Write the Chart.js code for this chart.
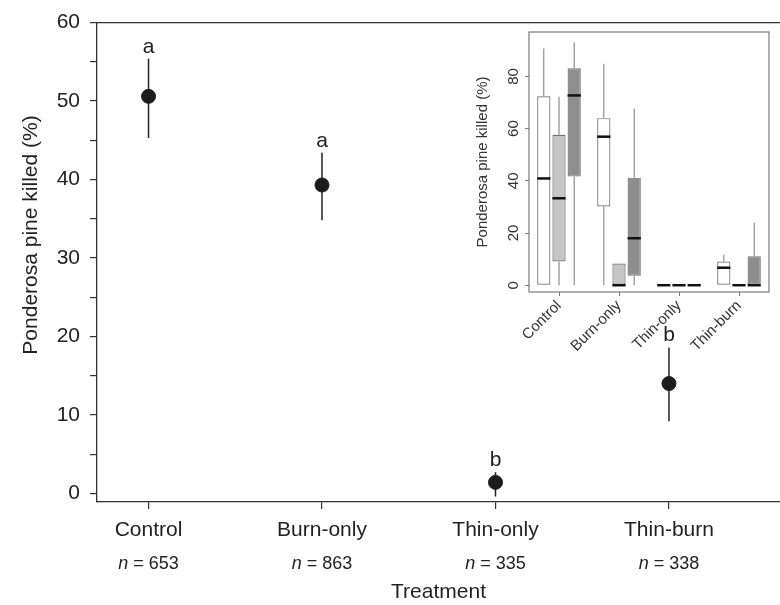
<!DOCTYPE html>
<html>
<head>
<meta charset="utf-8">
<script src="https://cdn.jsdelivr.net/npm/chart.js@4.4.1/dist/chart.umd.min.js"></script>
<style>
  body { margin: 0; background: #fff; }
  #wrap { position: relative; width: 780px; height: 605px; }
  #main { position: absolute; left: 0; top: 0; }
  #inset { position: absolute; left: 440px; top: 20px; }
</style>
</head>
<body>
<div id="wrap">
  <canvas id="main" width="780" height="605"></canvas>
  <canvas id="inset" width="340" height="380"></canvas>
</div>
<script>
const treatments = ['Control', 'Burn-only', 'Thin-only', 'Thin-burn'];
const sampleSizes = [653, 863, 335, 338];
const meanKilled = [50.6, 39.3, 1.4, 14.0];
const upperCI = [55.4, 43.4, 2.7, 18.6];
const lowerCI = [45.3, 34.8, -0.4, 9.2];
const groupLetters = ['a', 'a', 'b', 'b'];
const yTicks = [0, 5, 10, 15, 20, 25, 30, 35, 40, 45, 50, 55, 60];

// inset: three box plots per treatment (white, light grey, dark grey)
const boxLow  = [[0, 0, 0, 0], [0, 0, 0, 0], [0, 0, 0, 0]];
const boxQ1   = [[0, 30.2, 0, 0], [9.1, 0, 0, 0], [41.6, 3.6, 0, 0]];
const boxMed  = [[40.9, 56.9, 0, 6.7], [33.3, 0, 0, 0], [72.7, 18, 0, 0]];
const boxQ3   = [[72.4, 64, 0, 9.1], [57.6, 8.3, 0, 0], [83.1, 41.2, 0, 11.1]];
const boxHigh = [[90.7, 84.8, 0, 11.6], [72.2, 8.3, 0, 0], [93, 67.6, 0, 23.9]];
const insetTicks = [0, 20, 40, 60, 80];

const FONT = "'Liberation Sans', Arial, sans-serif";
const boxFills = ['#ffffff', '#c6c6c6', '#8e8e8e'];

// letters, n labels and the y title of the main panel
const mainLabels = {
    id: 'mainLabels',
    afterDraw(chart) {
        const ctx = chart.ctx;
        const xs = chart.scales.x;
        const ys = chart.scales.y;
        ctx.save();
        ctx.fillStyle = '#222';
        ctx.textAlign = 'center';
        ctx.textBaseline = 'alphabetic';
        ctx.font = `21px ${FONT}`;
        groupLetters.forEach((l, i) => {
            ctx.fillText(l, xs.getPixelForValue(i), ys.getPixelForValue(upperCI[i]) - 6);
        });

        // n = ...
        const ny = xs.top + 62;
        sampleSizes.forEach((n, i) => {
            const cx = xs.getPixelForValue(i);
            ctx.font = `italic 18px ${FONT}`;
            const w1 = ctx.measureText('n').width;
            ctx.font = `18px ${FONT}`;
            const rest = ' = ' + n;
            const w2 = ctx.measureText(rest).width;
            let x0 = cx - (w1 + w2) / 2;
            ctx.textAlign = 'left';
            ctx.textBaseline = 'middle';
            ctx.font = `italic 18px ${FONT}`;
            ctx.fillText('n', x0, ny);
            ctx.font = `18px ${FONT}`;
            ctx.fillText(rest, x0 + w1, ny);
        });

        ctx.translate(31, 235);
        ctx.rotate(-Math.PI / 2);
        ctx.textAlign = 'center';
        ctx.textBaseline = 'middle';
        ctx.font = `21px ${FONT}`;
        ctx.fillText('Ponderosa pine killed (%)', 0, 0);
        ctx.restore();
    }
};

const errorBars = treatments.map((t, i) => ({
    type: 'line',
    label: t + ' CI',
    data: [{ x: i, y: lowerCI[i] }, { x: i, y: upperCI[i] }],
    borderColor: '#222',
    borderWidth: 1.5,
    pointRadius: 0,
    order: 2
}));

new Chart(document.getElementById('main'), {
    type: 'scatter',
    data: {
        datasets: [{
            label: 'Ponderosa pine killed',
            data: meanKilled.map((v, i) => ({ x: i, y: v })),
            backgroundColor: '#1c1c1c',
            borderColor: '#1c1c1c',
            pointRadius: 7,
            pointHoverRadius: 7,
            order: 0
        }, ...errorBars]
    },
    options: {
        responsive: false,
        animation: false,
        layout: { autoPadding: false, padding: { top: 15, right: 0, left: 0, bottom: 0 } },
        plugins: { legend: { display: false }, tooltip: { enabled: false } },
        scales: {
            x: {
                type: 'linear',
                min: -0.297,
                max: 3.64,
                afterBuildTicks: s => { s.ticks = treatments.map((_, i) => ({ value: i })); },
                afterFit: s => { s.height = 103; },
                grid: { drawOnChartArea: false, tickLength: 7, color: '#333', lineWidth: 1.2 },
                border: { color: '#333', width: 1.3 },
                ticks: {
                    callback: v => treatments[v],
                    font: { size: 21, family: FONT },
                    color: '#222',
                    padding: 9,
                    maxRotation: 0,
                    autoSkip: false
                },
                title: {
                    display: true,
                    text: 'Treatment',
                    font: { size: 21, family: FONT },
                    color: '#222',
                    padding: { top: 0, bottom: 0 }
                }
            },
            xTop: {
                type: 'linear',
                position: 'top',
                min: -0.297,
                max: 3.64,
                ticks: { display: false },
                grid: { display: false },
                border: { color: '#333', width: 1.3 },
                afterFit: s => { s.height = 0; }
            },
            y: {
                min: -1.1,
                max: 60,
                afterBuildTicks: s => { s.ticks = yTicks.map(v => ({ value: v })); },
                afterFit: s => { s.width = 97; },
                grid: { drawOnChartArea: false, tickLength: 7, color: '#333', lineWidth: 1.2 },
                border: { color: '#333', width: 1.3 },
                ticks: {
                    callback: v => (v % 10 === 0 ? v : ''),
                    font: { size: 21, family: FONT },
                    color: '#222',
                    padding: 10
                }
            }
        }
    },
    plugins: [mainLabels]
});

// whiskers, medians and frame of the inset
const boxParts = {
    id: 'boxParts',
    afterDatasetsDraw(chart) {
        const ctx = chart.ctx;
        const ys = chart.scales.y;
        ctx.save();
        boxFills.forEach((_, k) => {
            const meta = chart.getDatasetMeta(k);
            meta.data.forEach((el, i) => {
                const x = el.x;
                const w = el.width;
                ctx.strokeStyle = '#777';
                ctx.lineWidth = 1;
                if (boxHigh[k][i] > boxQ3[k][i]) {
                    ctx.beginPath();
                    ctx.moveTo(x, ys.getPixelForValue(boxQ3[k][i]));
                    ctx.lineTo(x, ys.getPixelForValue(boxHigh[k][i]));
                    ctx.stroke();
                }
                if (boxLow[k][i] < boxQ1[k][i]) {
                    ctx.beginPath();
                    ctx.moveTo(x, ys.getPixelForValue(boxQ1[k][i]));
                    ctx.lineTo(x, ys.getPixelForValue(boxLow[k][i]));
                    ctx.stroke();
                }
                ctx.strokeStyle = '#111';
                ctx.lineWidth = 2.5;
                ctx.beginPath();
                const my = ys.getPixelForValue(boxMed[k][i]);
                ctx.moveTo(x - w / 2, my);
                ctx.lineTo(x + w / 2, my);
                ctx.stroke();
            });
        });
        const a = chart.chartArea;
        ctx.strokeStyle = '#7a7a7a';
        ctx.lineWidth = 1.2;
        ctx.strokeRect(a.left, a.top, a.right - a.left, a.bottom - a.top);
        ctx.restore();
    }
};

new Chart(document.getElementById('inset'), {
    type: 'bar',
    data: {
        labels: treatments,
        datasets: boxFills.map((fill, k) => ({
            label: 'Box ' + (k + 1),
            data: treatments.map((_, i) => [boxQ1[k][i], boxQ3[k][i]]),
            backgroundColor: fill,
            borderColor: '#707070',
            borderWidth: 1.2,
            borderSkipped: false,
            categoryPercentage: 0.76,
            barPercentage: 0.87
        }))
    },
    options: {
        responsive: false,
        animation: false,
        layout: { autoPadding: false, padding: { top: 8, right: 11, left: 0, bottom: 0 } },
        plugins: { legend: { display: false }, tooltip: { enabled: false } },
        scales: {
            x: {
                afterFit: s => { s.height = 108; },
                grid: { drawOnChartArea: false, offset: false, tickLength: 4, color: '#7a7a7a' },
                border: { display: false },
                ticks: {
                    font: { size: 15, family: FONT },
                    color: '#333',
                    minRotation: 45,
                    maxRotation: 45,
                    padding: 1
                }
            },
            y: {
                min: -2.6,
                max: 97,
                afterBuildTicks: s => { s.ticks = insetTicks.map(v => ({ value: v })); },
                afterFit: s => { s.width = 89; },
                grid: { drawOnChartArea: false, tickLength: 4, color: '#7a7a7a' },
                border: { display: false },
                ticks: {
                    font: { size: 15, family: FONT },
                    color: '#333',
                    minRotation: 90,
                    maxRotation: 90,
                    crossAlign: 'center',
                    padding: 3
                },
                title: {
                    display: true,
                    text: 'Ponderosa pine killed (%)',
                    font: { size: 15, family: FONT },
                    color: '#333',
                    padding: { top: 34, bottom: 0 }
                }
            }
        }
    },
    plugins: [boxParts]
});
</script>
</body>
</html>
